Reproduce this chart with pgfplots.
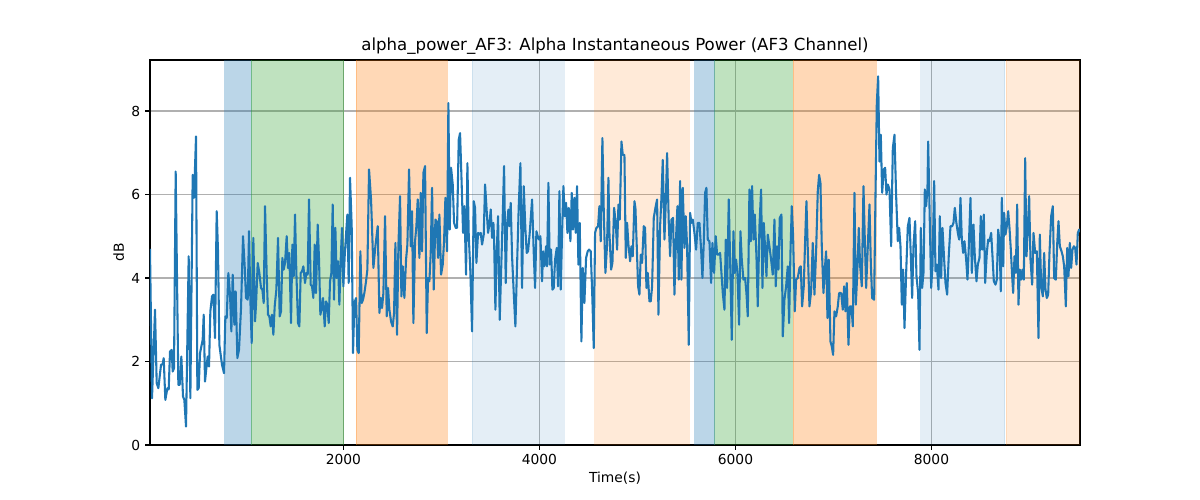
\documentclass[border=0pt]{standalone}
\usepackage{pgfplots}
\pgfplotsset{compat=1.18}
\usepackage{fontspec}
\setmainfont{DejaVu Sans}
\definecolor{tabblue}{HTML}{1F77B4}
\definecolor{taborange}{HTML}{FF7F0E}
\definecolor{tabgreen}{HTML}{2CA02C}
\definecolor{gridgray}{HTML}{B0B0B0}
\begin{document}
\begin{tikzpicture}
\useasboundingbox (0,0) rectangle (867.24pt,361.35pt);
\begin{axis}[
  at={(108.4pt,39.75pt)}, anchor=south west,
  scale only axis, width=672.1pt, height=278.2pt,
  xmin=27, xmax=9515, ymin=0, ymax=9.22,
  xtick={2000,4000,6000,8000}, ytick={0,2,4,6,8},
  /pgf/number format/1000 sep={},
  /pgf/number format/assume math mode=true,
  tick align=outside, tick pos=left,
  major tick length=3.5pt,
  every tick/.style={black, line width=0.8pt},
  axis line style={black, line width=0.8pt},
  grid=major, major grid style={gridgray, line width=0.8pt},
  title={alpha\_power\_AF3: Alpha Instantaneous Power (AF3 Channel)},
  title style={font=\fontsize{12}{14}\selectfont, yshift=-5.8pt},
  xlabel={Time(s)}, ylabel={dB},
  label style={font=\fontsize{10}{12}\selectfont},
  tick label style={font=\fontsize{10}{12}\selectfont},
  xlabel style={yshift=2pt}, ylabel style={yshift=-1.5pt},
  span/.style args={#1/#2}{draw=#1, draw opacity=#2, fill=#1, fill opacity=#2, line width=0.7pt},
]
% shaded segments
\addplot[span=tabblue/0.3] coordinates {(789,10) (1058,10)} \closedcycle;
\addplot[span=tabgreen/0.3] coordinates {(1058,10) (2003,10)} \closedcycle;
\addplot[span=taborange/0.3] coordinates {(2132,10) (3058,10)} \closedcycle;
\addplot[span=tabblue/0.12] coordinates {(3316,10) (4251,10)} \closedcycle;
\addplot[span=taborange/0.16] coordinates {(4564,10) (5530,10)} \closedcycle;
\addplot[span=tabblue/0.3] coordinates {(5585,10) (5789,10)} \closedcycle;
\addplot[span=tabgreen/0.3] coordinates {(5789,10) (6581,10)} \closedcycle;
\addplot[span=taborange/0.3] coordinates {(6592,10) (7435,10)} \closedcycle;
\addplot[span=tabblue/0.12] coordinates {(7888,10) (8748,10)} \closedcycle;
\addplot[span=taborange/0.16] coordinates {(8765,10) (9530,10)} \closedcycle;
% signal
\addplot[tabblue, line width=1.5pt, line join=round, mark=none] table {
x y
27 4.7
47.6 1.12
78.2 3.24
95.3 1.48
112.3 1.36
139.5 1.92
156.5 1.94
166.7 2.08
183.7 1.08
204.1 1.36
217.7 1.33
231.3 2.24
248.3 2.28
258.5 1.76
272.1 1.84
289.1 6.55
316.3 1.44
329.9 1.44
346.9 2.12
363.9 1.16
377.5 1.08
394.5 0.44
421.7 4.52
438.8 1.12
462.6 6.47
476.2 5.92
496.6 7.39
510.2 1.32
523.8 1.36
537.4 2.2
564.6 2.52
574.8 3.12
588.4 1.52
602.0 1.84
615.6 2.12
629.2 1.88
642.8 3.2
659.8 3.56
673.4 3.6
690.4 2.56
707.4 5.6
721.0 4.64
734.6 2.4
761.8 1.92
782.3 1.72
795.9 3.08
809.5 3.04
826.5 4.12
843.5 3.6
857.1 2.72
870.7 4.08
887.7 2.88
901.3 3.68
918.3 2.08
935.3 2.28
955.7 3.28
976.1 5.0
993.1 4.28
1006.7 3.52
1023.7 3.48
1037.3 5.12
1050.9 3.48
1064.5 2.44
1081.5 4.96
1098.5 2.96
1108.8 3.36
1125.8 4.36
1142.8 4.12
1159.8 3.76
1173.4 3.72
1187.0 3.4
1200.6 5.72
1217.6 4.08
1231.2 3.12
1244.8 3.08
1258.4 2.84
1272.0 3.12
1285.6 2.64
1299.2 3.32
1316.2 3.72
1333.2 4.96
1350.2 3.08
1363.8 3.2
1377.4 4.48
1391.0 4.2
1404.6 4.36
1421.6 5.0
1435.2 4.24
1448.8 4.6
1465.9 2.92
1479.5 4.8
1493.1 4.04
1506.7 5.52
1520.3 4.12
1537.3 2.92
1550.9 2.84
1564.5 4.12
1578.1 4.16
1591.7 4.28
1608.7 3.88
1622.3 4.12
1635.9 4.08
1649.5 5.88
1666.5 3.84
1680.1 3.8
1693.7 3.52
1707.3 4.8
1720.9 3.64
1737.9 5.28
1751.5 4.44
1765.1 3.12
1778.7 3.28
1792.3 3.52
1809.4 2.84
1823.0 3.44
1836.6 3.36
1850.2 2.92
1863.8 3.92
1877.4 4.12
1891.0 5.76
1904.6 3.48
1918.2 5.2
1931.8 4.0
1945.4 4.4
1959.0 3.36
1972.6 4.44
1986.2 5.2
1999.8 3.8
2013.4 4.52
2027.0 5.04
2040.6 5.52
2054.2 3.88
2067.8 6.4
2084.8 5.24
2098.4 2.2
2112.0 3.4
2129.0 3.52
2142.6 2.28
2156.3 2.2
2173.3 4.64
2186.9 3.4
2200.5 3.48
2214.1 3.64
2231.1 3.92
2244.7 4.2
2261.7 6.6
2282.3 5.88
2306.1 4.24
2326.5 4.76
2350.3 5.24
2367.3 3.16
2381.0 3.52
2394.5 3.28
2408.1 3.64
2425.1 5.48
2442.2 3.08
2455.8 3.76
2469.4 3.24
2486.4 2.96
2503.4 2.84
2517.0 3.16
2530.6 4.84
2547.6 2.64
2561.2 4.76
2578.2 5.96
2591.8 3.56
2605.4 4.28
2622.4 3.52
2639.4 4.44
2653.0 4.8
2670.0 6.6
2687.0 4.76
2700.6 5.6
2714.2 2.92
2731.2 4.88
2744.8 5.24
2758.4 5.88
2775.5 4.48
2789.1 6.04
2802.7 4.64
2816.3 6.52
2833.3 6.68
2850.3 2.68
2863.9 4.0
2877.5 3.92
2891.1 4.6
2904.7 6.16
2921.7 3.72
2938.7 5.4
2952.3 5.36
2965.9 4.48
2979.5 5.52
2996.5 4.08
3013.5 4.32
3027.1 4.88
3040.7 5.92
3057.7 4.64
3071.3 8.19
3084.9 5.16
3098.5 6.64
3115.6 6.24
3129.2 5.32
3146.2 5.2
3159.8 5.2
3176.8 7.31
3190.4 7.47
3207.4 6.2
3221.0 5.08
3234.6 5.72
3251.6 4.08
3265.2 6.75
3278.8 5.04
3295.8 4.12
3312.8 2.72
3329.8 5.84
3343.4 5.68
3357.0 4.36
3374.0 5.08
3387.6 5.04
3401.2 5.08
3414.8 4.8
3431.9 5.04
3445.5 6.24
3459.1 5.72
3476.1 5.08
3489.7 5.28
3503.3 5.64
3516.9 4.96
3530.5 5.32
3537.3 4.96
3550.9 3.24
3564.5 4.64
3578.1 5.48
3595.1 3.0
3608.7 4.12
3625.7 5.48
3639.3 6.68
3656.3 3.88
3669.9 5.28
3683.5 5.64
3693.7 5.24
3707.3 5.8
3720.9 4.52
3737.9 3.64
3754.9 2.84
3772.0 4.32
3789.0 5.72
3806.0 6.75
3823.0 3.76
3840.0 6.2
3857.0 5.16
3870.6 4.6
3884.2 4.64
3901.2 5.08
3925.0 5.88
3942.0 4.6
3955.6 3.76
3969.2 5.12
3982.8 5.0
3996.4 4.92
4010.0 5.0
4027.0 3.92
4037.2 4.64
4050.8 4.28
4067.8 4.76
4078.0 4.28
4091.6 6.28
4105.2 4.32
4118.8 4.68
4132.4 3.72
4146.1 3.76
4159.7 4.44
4176.7 4.72
4190.3 3.8
4203.9 6.08
4217.5 3.72
4231.1 5.08
4244.7 6.2
4258.3 5.48
4271.9 5.8
4285.5 5.08
4299.1 5.68
4316.1 4.88
4329.7 6.04
4343.3 5.16
4356.9 5.92
4370.5 5.08
4384.1 6.2
4397.7 4.32
4411.3 5.32
4428.3 2.48
4441.9 4.24
4458.9 3.4
4475.9 4.48
4492.9 4.64
4506.5 4.68
4523.5 4.64
4540.6 3.48
4554.2 2.32
4567.8 5.08
4581.4 5.2
4598.4 5.24
4612.0 5.72
4625.6 4.88
4642.6 7.35
4656.2 5.64
4673.2 4.12
4690.2 4.8
4703.9 6.4
4714.2 5.08
4731.2 4.2
4744.8 4.36
4761.8 5.68
4778.8 5.32
4792.5 4.68
4806.1 5.76
4819.7 5.4
4836.7 7.27
4850.3 6.95
4867.3 6.95
4880.9 4.48
4894.5 5.32
4908.1 4.8
4925.1 4.4
4938.7 4.76
4952.3 4.52
4969.3 5.84
4979.5 5.68
4993.1 4.76
5006.7 3.8
5020.3 3.6
5033.9 4.56
5047.5 4.36
5064.5 5.24
5078.1 5.2
5091.7 3.76
5105.3 4.12
5122.4 3.44
5136.0 3.44
5149.6 3.8
5166.6 5.44
5183.6 5.68
5200.6 5.88
5214.2 3.12
5231.2 5.24
5244.8 5.92
5258.4 6.83
5275.4 4.92
5289.0 5.8
5302.6 6.99
5319.6 5.32
5333.2 4.52
5346.8 5.4
5363.8 5.44
5377.4 3.6
5394.4 5.0
5408.0 5.72
5421.6 3.96
5435.2 6.32
5448.8 3.96
5462.5 6.16
5479.5 4.72
5493.1 5.48
5506.7 4.76
5523.7 2.4
5537.3 5.56
5550.9 5.32
5564.5 5.4
5581.5 5.08
5598.5 4.68
5615.5 5.32
5632.5 5.32
5649.5 4.68
5663.1 4.0
5676.7 4.84
5690.3 6.04
5703.9 6.16
5717.5 4.92
5734.5 4.88
5751.5 3.88
5765.1 4.84
5782.1 4.12
5799.1 5.0
5812.8 4.56
5826.4 4.56
5843.4 4.6
5857.0 4.12
5870.6 3.64
5887.6 3.24
5901.2 4.92
5914.8 3.76
5931.8 5.88
5945.4 4.44
5962.4 2.52
5979.4 5.12
5993.0 4.12
6006.6 4.44
6020.2 4.12
6037.2 2.88
6050.8 5.12
6064.4 4.44
6081.4 3.96
6098.4 4.0
6112.0 3.64
6125.6 3.08
6142.6 6.12
6156.2 4.88
6169.9 6.2
6183.5 4.92
6197.1 5.52
6214.1 4.52
6227.7 3.32
6244.7 5.24
6261.7 6.12
6275.3 3.76
6288.9 5.32
6302.5 4.72
6316.1 4.04
6329.7 5.04
6346.7 4.76
6363.7 4.44
6380.7 4.08
6397.7 5.4
6411.3 3.8
6424.9 4.76
6438.5 4.2
6452.1 5.44
6469.1 5.52
6482.8 2.6
6499.8 3.48
6516.8 3.8
6533.8 4.28
6547.4 2.92
6561.0 4.6
6574.6 5.72
6588.2 5.0
6605.2 3.2
6618.8 3.96
6635.8 4.0
6652.8 4.24
6666.4 4.28
6680.0 3.32
6697.0 3.8
6710.6 4.88
6724.2 5.84
6737.8 4.68
6754.8 3.32
6771.8 3.68
6788.8 4.84
6805.8 3.6
6822.9 4.64
6839.9 6.08
6853.5 6.47
6867.1 6.28
6880.7 4.76
6897.7 3.64
6911.3 4.2
6924.9 4.64
6938.5 3.04
6952.1 4.44
6969.1 2.48
6982.7 2.36
6996.3 2.16
7009.9 3.2
7026.9 3.08
7043.9 3.32
7057.5 3.64
7078.2 3.64
7095.2 3.24
7108.8 3.8
7122.4 3.2
7136.0 3.88
7153.0 2.4
7166.6 3.32
7183.6 3.32
7197.2 2.84
7214.2 6.04
7227.8 3.36
7241.5 4.04
7258.5 5.2
7272.1 4.28
7289.1 3.8
7306.1 6.2
7319.7 4.92
7333.3 3.76
7350.3 4.76
7367.3 5.76
7380.9 4.36
7394.5 3.52
7414.9 3.48
7428.5 5.96
7442.1 8.19
7455.7 8.83
7469.3 6.79
7482.9 7.43
7496.5 6.04
7513.5 6.6
7527.1 6.64
7540.7 6.0
7554.3 6.24
7571.4 6.12
7588.4 4.76
7605.4 7.11
7622.4 7.43
7639.4 5.96
7656.4 4.88
7670.0 5.2
7683.6 4.76
7697.2 3.36
7710.8 4.2
7724.4 2.8
7741.4 4.12
7758.4 5.24
7775.4 5.44
7789.0 4.52
7802.6 3.52
7816.2 4.76
7833.2 5.36
7846.8 4.04
7863.8 3.64
7877.4 2.28
7891.0 5.2
7904.6 3.76
7918.3 4.12
7931.9 6.12
7945.5 5.72
7959.1 6.16
7965.9 7.27
7979.5 5.72
7996.5 3.76
8010.1 4.28
8027.1 6.32
8040.7 4.16
8054.3 4.32
8071.3 3.72
8084.9 5.48
8098.5 4.0
8112.1 5.2
8129.1 4.44
8142.7 3.88
8159.7 3.6
8176.7 4.56
8193.7 5.24
8210.7 5.24
8224.3 5.32
8237.9 5.68
8251.6 5.36
8268.6 5.08
8282.2 4.92
8295.8 5.92
8309.4 4.92
8323.0 4.6
8336.6 4.88
8353.6 4.44
8367.2 3.96
8380.8 4.76
8397.8 5.92
8411.4 4.12
8428.4 5.28
8442.0 4.52
8459.0 3.92
8472.6 4.32
8489.6 4.48
8503.2 5.48
8516.8 4.68
8533.8 5.52
8547.4 3.88
8564.4 4.6
8578.0 4.92
8591.7 4.88
8608.7 5.08
8622.3 4.52
8635.9 3.92
8652.9 3.84
8666.5 3.96
8680.1 5.16
8693.7 4.88
8707.3 3.68
8717.5 5.92
8731.1 4.28
8741.3 5.56
8754.9 5.04
8768.5 5.24
8782.1 5.6
8795.7 5.2
8809.3 4.68
8822.9 4.04
8833.1 3.64
8846.7 4.52
8860.3 4.12
8873.9 5.76
8887.5 3.36
8901.1 4.2
8914.7 3.96
8928.3 4.2
8941.9 3.96
8955.6 6.87
8969.2 4.52
8982.8 5.2
8996.4 5.96
9010.0 4.44
9027.0 3.84
9040.6 5.08
9057.6 4.6
9074.6 4.64
9091.6 2.56
9105.2 5.04
9118.8 3.8
9135.8 3.56
9149.4 4.6
9163.0 3.72
9176.6 3.52
9190.2 3.6
9203.8 4.6
9220.8 5.48
9237.8 5.72
9251.4 4.0
9268.5 3.96
9282.1 4.8
9295.7 5.36
9309.3 4.76
9326.3 4.64
9339.9 4.52
9353.5 4.28
9370.5 3.32
9384.1 4.72
9397.7 4.04
9411.3 4.84
9424.9 4.24
9438.5 4.68
9452.1 4.76
9465.7 4.72
9479.3 4.32
9492.9 5.08
9506.5 5.16
9515 5.1
};
\end{axis}
\end{tikzpicture}
\end{document}
